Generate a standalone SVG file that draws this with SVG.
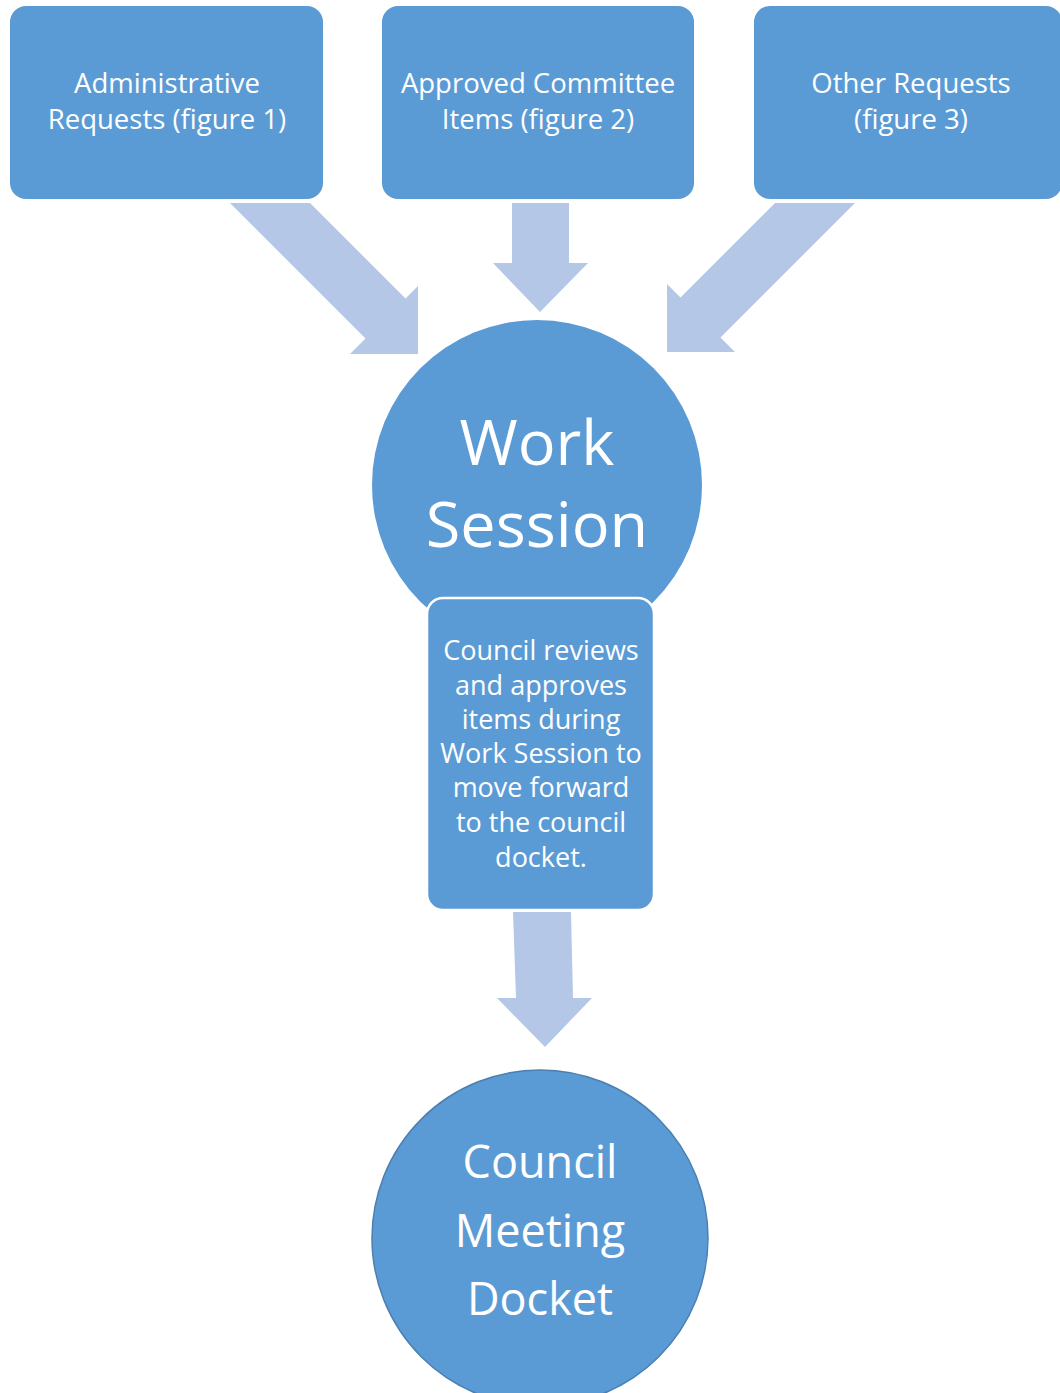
<svg xmlns="http://www.w3.org/2000/svg" width="1060" height="1393" viewBox="0 0 1060 1393">
<style>
.node{fill:#5B9BD5;}
.arrow{fill:#B4C7E7;}
.t{fill:#FFFFFF;font-family:"Open Sans","Liberation Sans",sans-serif;text-anchor:middle;}
.box{font-size:27.5px;}
.rev{font-size:27px;}
</style>
<rect width="1060" height="1393" fill="#FFFFFF"/>
<g id="connectors">
<polygon class="arrow" points="230,203 310,203 405.5,298.5 418,286 418,354 350,354 365.5,338.5"/>
<polygon class="arrow" points="512,203 569,203 569,263 588,263 540,312 493,263 512,263"/>
<polygon class="arrow" points="775,203 855,203 720.5,337.5 735,352 667,352 667,284 680.5,297.5"/>
<polygon class="arrow" points="513,912 571,912 573,998 592,998 545,1047 497,998 516,998"/>
</g>
<g id="node-admin">
<rect class="node" x="10" y="6" width="313" height="193" rx="16"/>
<text class="t box" x="167" y="93">Administrative</text>
<text class="t box" x="167" y="129">Requests (figure 1)</text>
</g>
<g id="node-committee">
<rect class="node" x="382" y="6" width="312" height="193" rx="16"/>
<text class="t box" x="538" y="93">Approved Committee</text>
<text class="t box" x="538" y="129">Items (figure 2)</text>
</g>
<g id="node-other">
<rect class="node" x="754" y="6" width="308" height="193" rx="16"/>
<text class="t box" x="911" y="93">Other Requests</text>
<text class="t box" x="911" y="129">(figure 3)</text>
</g>
<g id="node-work-session">
<circle class="node" cx="537" cy="485" r="165"/>
<text class="t" x="537" y="465" font-size="63">Work</text>
<text class="t" x="537" y="547" font-size="63">Session</text>
</g>
<g id="node-review">
<rect class="node" x="427" y="598" width="227" height="312" rx="16" stroke="#FFFFFF" stroke-width="2.5"/>
<text class="t rev" x="541" y="660">Council reviews</text>
<text class="t rev" x="541" y="695">and approves</text>
<text class="t rev" x="541" y="729">items during</text>
<text class="t rev" x="541" y="763">Work Session to</text>
<text class="t rev" x="541" y="797">move forward</text>
<text class="t rev" x="541" y="832">to the council</text>
<text class="t rev" x="541" y="867">docket.</text>
</g>
<g id="node-docket">
<circle class="node" cx="540" cy="1238" r="168" stroke="#4A7FB0" stroke-width="1.5"/>
<text class="t" x="540" y="1178" font-size="45">Council</text>
<text class="t" x="540" y="1247" font-size="45">Meeting</text>
<text class="t" x="540" y="1315" font-size="45">Docket</text>
</g>
</svg>
